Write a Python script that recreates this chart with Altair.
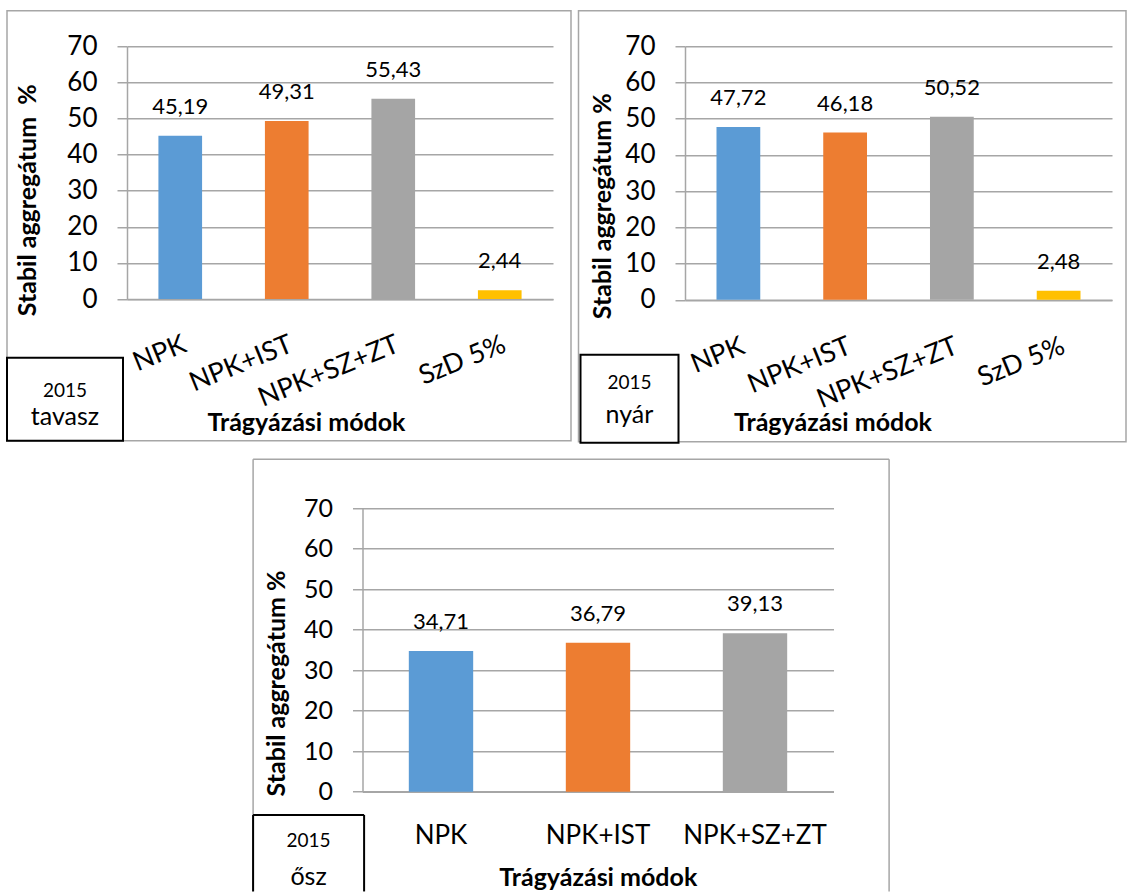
import altair as alt
import pandas as pd

# ---- data ----
categories_spring = ["NPK", "NPK+IST", "NPK+SZ+ZT", "SzD 5%"]
values_spring = [45.19, 49.31, 55.43, 2.44]
categories_summer = ["NPK", "NPK+IST", "NPK+SZ+ZT", "SzD 5%"]
values_summer = [47.72, 46.18, 50.52, 2.48]
categories_autumn = ["NPK", "NPK+IST", "NPK+SZ+ZT"]
values_autumn = [34.71, 36.79, 39.13]
bar_colors = ["#5B9BD5", "#ED7D31", "#A5A5A5", "#FFC000"]
y_ticks = [0, 10, 20, 30, 40, 50, 60, 70]

GRID = "#A6A6A6"
FONT = "Lato"


def one_row():
    return pd.DataFrame({"k": [0]})


def rules(box, color, width):
    x1, x2, y1, y2 = box
    out = []
    for (a, b, c, d) in [(x1, x2, y1, y1), (x1, x1, y1, y2), (x2, x2, y1, y2)]:
        out.append(alt.Chart(one_row()).mark_rule(color=color, strokeWidth=width).encode(
            x=alt.value(a), x2=alt.value(b), y=alt.value(c), y2=alt.value(d)))
    return out


def make_panel(cats, vals, w, h, ytitle, season, g):
    df = pd.DataFrame({
        "cat": cats,
        "val": vals,
        "label": [f"{v:.2f}".replace(".", ",") for v in vals],
    })
    x_axis = alt.Axis(
        title="Trágyázási módok",
        titleFontSize=25, titleFontWeight="bold", titleColor="black",
        titleX=g["xtx"], titleY=g["xty"], titleBaseline="middle", titleAlign="center",
        labelAngle=g["la"], labelAlign=g["lalign"], labelBaseline="top",
        labelPadding=g["lpad"], labelFontSize=g["lfs"], labelColor="black",
        labelOverlap=False, ticks=False, tickSize=0,
        domainColor=GRID, domainWidth=1.5, grid=False,
    )
    y_axis = alt.Axis(
        title=ytitle, values=y_ticks, tickCount=10, format="d",
        titleFontSize=25, titleFontWeight="bold", titleColor="black",
        titleX=g["ytx"], titleY=g["yty"], titleAngle=270,
        titleBaseline="middle", titleAlign="center",
        labelFontSize=g["yfs"], labelColor="black", labelPadding=20,
        labelOverlap=False,
        tickSize=10, tickColor=GRID, tickWidth=1.5,
        domainColor=GRID, domainWidth=1.5,
        grid=True, gridColor=GRID, gridWidth=1.5,
    )
    x = alt.X("cat:N", sort=cats, axis=x_axis,
              scale=alt.Scale(paddingInner=0.59, paddingOuter=0.295))
    y = alt.Y("val:Q", axis=y_axis, scale=alt.Scale(domain=[0, 70], nice=False))
    color = alt.Color("cat:N", sort=cats, legend=None,
                      scale=alt.Scale(domain=cats, range=bar_colors[:len(cats)]))

    layers = []
    b = g["border"]
    if g.get("open_bottom"):
        layers += rules(b, GRID, 1.5)
    else:
        layers.append(alt.Chart(one_row()).mark_rect(filled=False, stroke=GRID, strokeWidth=1.5).encode(
            x=alt.value(b[0]), x2=alt.value(b[1]), y=alt.value(b[2]), y2=alt.value(b[3])))

    layers.append(alt.Chart(df).mark_bar().encode(x=x, y=y, color=color))
    layers.append(alt.Chart(df).mark_text(baseline="alphabetic", dy=g["dy"], fontSize=22,
                                          color="black", font=FONT).encode(
        x=alt.X("cat:N", sort=cats), y="val:Q", text="label:N"))

    bx = g["box"]
    if g.get("open_bottom"):
        layers.append(alt.Chart(one_row()).mark_rect(fill="white").encode(
            x=alt.value(bx[0]), x2=alt.value(bx[1]), y=alt.value(bx[2]), y2=alt.value(bx[3])))
        layers += rules(bx, "black", 2)
    else:
        layers.append(alt.Chart(one_row()).mark_rect(fill="white", stroke="black", strokeWidth=2).encode(
            x=alt.value(bx[0]), x2=alt.value(bx[1]), y=alt.value(bx[2]), y2=alt.value(bx[3])))

    cx = (bx[0] + bx[1]) / 2
    layers.append(alt.Chart(one_row()).mark_text(fontSize=19, color="black", font=FONT,
                                                 baseline="middle", align="center").encode(
        x=alt.value(cx), y=alt.value(g["by1"]), text=alt.value("2015")))
    layers.append(alt.Chart(one_row()).mark_text(fontSize=25, color="black", font=FONT,
                                                 baseline="middle", align="center").encode(
        x=alt.value(cx), y=alt.value(g["by2"]), text=alt.value(season)))

    return alt.layer(*layers).properties(width=w, height=h)


geom1 = dict(xtx=179, xty=123.7, la=-22, lalign="right", lpad=32, lfs=27,
             ytx=-100, yty=153.5, yfs=26, dy=-22,
             border=(-120, 444, -35.5, 394.5), box=(-120, -4, 311.5, 394.5),
             by1=344.5, by2=370.5)
geom2 = dict(xtx=147.5, xty=122.7, la=-22, lalign="right", lpad=33, lfs=27,
             ytx=-83, yty=159.5, yfs=26, dy=-22,
             border=(-106.5, 441, -35.5, 395.5), box=(-104.5, -6.5, 308.5, 396.5),
             by1=336.5, by2=368.5)
geom3 = dict(xtx=235.3, xty=86, la=0, lalign="center", lpad=31, lfs=26,
             ytx=-86.4, yty=174.7, yfs=25, dy=-22,
             border=(-109.4, 526.6, -49, 383.2), box=(-109.4, 1.6, 306.7, 383.2),
             open_bottom=True, by1=332.7, by2=368.7)

p1 = make_panel(categories_spring, values_spring, 426, 252.8,
                "Stabil aggregátum \u00a0%", "tavasz", geom1)
p2 = make_panel(categories_summer, values_summer, 427, 253.5,
                "Stabil aggregátum %", "nyár", geom2)
p3 = make_panel(categories_autumn, values_autumn, 471, 283.4,
                "Stabil aggregátum %", "ősz", geom3)

# invisible spacer that pushes the bottom panel to the right
spacer = alt.Chart(one_row()).mark_rule(strokeOpacity=0).encode(
    x=alt.value(0), x2=alt.value(100), y=alt.value(0)
).properties(width=100, height=10)

top = alt.hconcat(p1, p2, spacing=5)
bottom = alt.hconcat(spacer, p3, spacing=24.5)
chart = alt.vconcat(top, bottom, spacing=14).properties(
    padding={"left": 6, "top": 9.25, "right": 0, "bottom": 0}
).configure(font=FONT).configure_view(strokeWidth=0).resolve_scale(color="independent")

chart.save("out.html", embed_options={"renderer": "svg", "actions": False})
